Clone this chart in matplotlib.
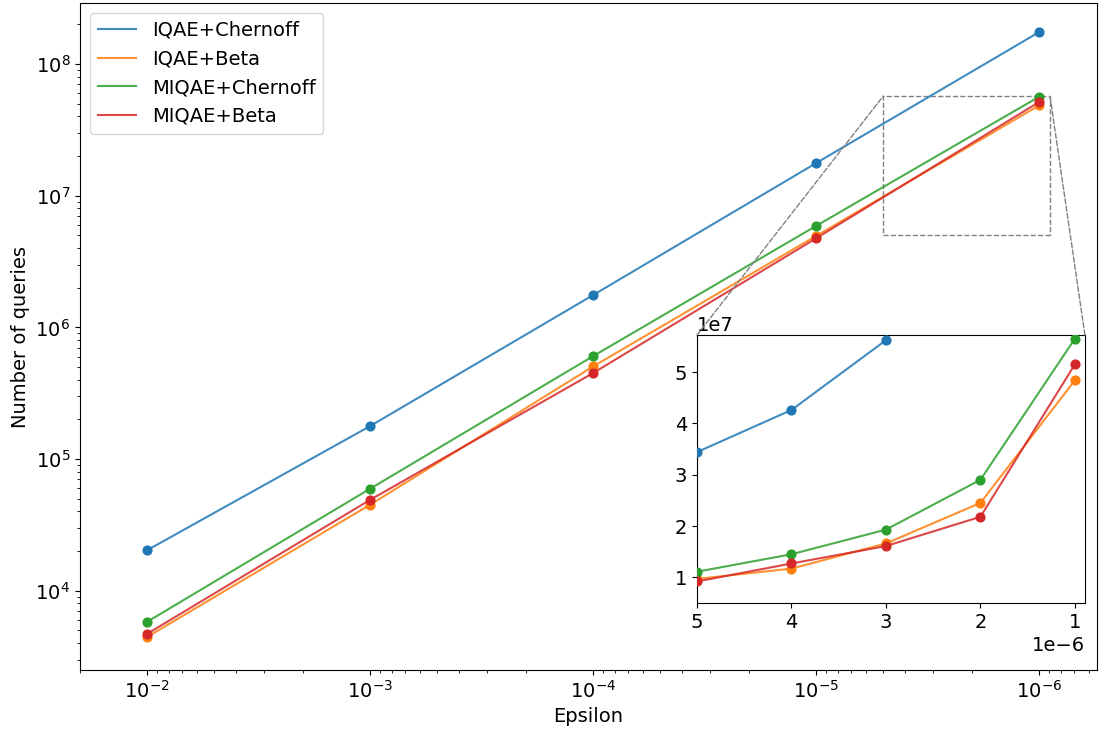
import numpy as np
import matplotlib
matplotlib.use("Agg")
import matplotlib.pyplot as plt
from matplotlib.patches import ConnectionPatch
from mpl_toolkits.axes_grid1.inset_locator import mark_inset

plt.rcParams['font.size'] = 14

# dane - wykres glowny (epsilon co dekade)
epsilons = [1e-2, 1e-3, 1e-4, 1e-5, 1e-6]
iqae_chernoff = [2.03e4, 1.78e5, 1.76e6, 1.77e7, 1.75e8]
iqae_beta = [4.45e3, 4.5e4, 5.05e5, 4.95e6, 4.85e7]
miqae_chernoff = [5.8e3, 5.95e4, 6.05e5, 5.9e6, 5.65e7]
miqae_beta = [4.7e3, 4.9e4, 4.5e5, 4.75e6, 5.15e7]

# dane - powiekszenie
eps_zoom = [5e-6, 4e-6, 3e-6, 2e-6, 1e-6]
iqae_chernoff_zoom = [3.44e7, 4.26e7, 5.62e7, 8.7e7, 1.75e8]
iqae_beta_zoom = [0.97e7, 1.17e7, 1.66e7, 2.45e7, 4.84e7]
miqae_chernoff_zoom = [1.11e7, 1.45e7, 1.93e7, 2.9e7, 5.65e7]
miqae_beta_zoom = [0.92e7, 1.27e7, 1.61e7, 2.18e7, 5.15e7]

labels = ['IQAE+Chernoff', 'IQAE+Beta', 'MIQAE+Chernoff', 'MIQAE+Beta']
colors = ['tab:blue', 'tab:orange', 'tab:green', 'tab:red']
main_series = [iqae_chernoff, iqae_beta, miqae_chernoff, miqae_beta]
zoom_series = [iqae_chernoff_zoom, iqae_beta_zoom, miqae_chernoff_zoom, miqae_beta_zoom]

fig = plt.figure(figsize=(10.99, 7.29), dpi=100)
ax = fig.add_axes([0.0728, 0.081, 0.9254, 0.9146])

for ys, lab, c in zip(main_series, labels, colors):
    ax.plot(epsilons, ys, color=c, alpha=0.85, label=lab)
    ax.scatter(epsilons, ys, color=c, s=40, zorder=3)

ax.set_xscale('log')
ax.set_yscale('log')
ax.set_xlim(2e-2, 5.5e-7)
ax.set_ylim(2.5e3, 2.9e8)
ax.set_xlabel('Epsilon')
ax.set_ylabel('Number of queries')
ax.legend(loc='upper left')

# wstawka z powiekszeniem
x1, x2 = 5e-6, 0.894e-6
y1, y2 = 0.5e7, 5.72e7
axins = fig.add_axes([0.6342, 0.1728, 0.353, 0.3676])
for ys, c in zip(zoom_series, colors):
    axins.plot(eps_zoom, ys, color=c, alpha=0.85)
    axins.scatter(eps_zoom, ys, color=c, s=40, zorder=3)
axins.set_xlim(x1, x2)
axins.set_ylim(y1, y2)
axins.set_xticks([5e-6, 4e-6, 3e-6, 2e-6, 1e-6])
axins.set_yticks([1e7, 2e7, 3e7, 4e7, 5e7])

# prostokat + linie laczace (os x odwrocona, wiec recznie)
pp, p1, p2 = mark_inset(ax, axins, loc1=1, loc2=2, fc="none", ec="0.5", ls="--")
p1.remove()
p2.remove()
for xa, xb in [(0, x1), (1, x2)]:
    con = ConnectionPatch(xyA=(xa, 1), coordsA=axins.transAxes,
                          xyB=(xb, y2), coordsB=ax.transData,
                          color="0.5", ls="--", lw=1)
    fig.add_artist(con)

plt.savefig("out.png", dpi=100)
